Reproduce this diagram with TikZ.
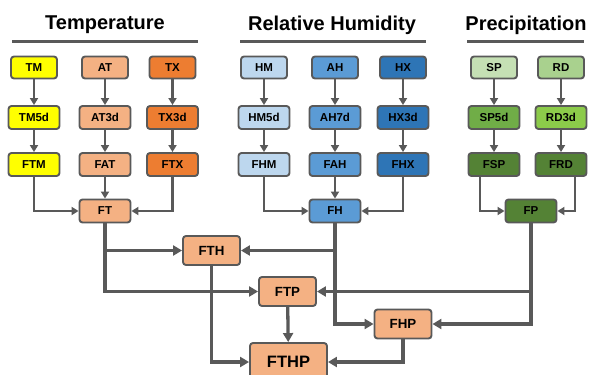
\documentclass[tikz,border=0pt]{standalone}
\usepackage{fontspec}
\setmainfont{Liberation Sans}
\usetikzlibrary{arrows.meta}

\definecolor{edge}{HTML}{595959}
\definecolor{cTM}{HTML}{FFFF00}
\definecolor{cAT}{HTML}{F4B183}
\definecolor{cTX}{HTML}{ED7D31}
\definecolor{cHM}{HTML}{BDD7EE}
\definecolor{cAH}{HTML}{5B9BD5}
\definecolor{cHX}{HTML}{2E75B6}
\definecolor{cSP}{HTML}{C5E0B4}
\definecolor{cSPd}{HTML}{70AD47}
\definecolor{cRD}{HTML}{A9D18E}
\definecolor{cRDd}{HTML}{8CCB4A}
\definecolor{cFG}{HTML}{548235}

\tikzset{
  box/.style={draw=edge, line width=1.9pt, rounded corners=3pt, inner sep=0pt,
    font=\bfseries\fontsize{11.5}{12}\selectfont, text=black},
  top/.style={box, minimum width=46pt, minimum height=22pt},
  mid/.style={box, minimum width=51pt, minimum height=23pt},
  big/.style={box, minimum width=57pt, minimum height=29pt,
    font=\bfseries\fontsize{13.3}{14}\selectfont},
  huge/.style={box, minimum width=77pt, minimum height=38pt,
    font=\bfseries\fontsize{16.5}{17}\selectfont},
  title/.style={font=\bfseries\fontsize{20}{22}\selectfont, inner sep=0pt},
  rule/.style={draw=edge, line width=3pt},
  thin/.style={draw=edge, line width=2.4pt, -{Triangle[length=7pt,width=8pt]}},
  thick/.style={draw=edge, line width=3.3pt, -{Triangle[length=9pt,width=10pt]}},
}

\begin{document}
\begin{tikzpicture}[x=1pt, y=-1pt]
\useasboundingbox (0,0) rectangle (593,374);

% group headings
\node[title] (tT) at (105,25) {Temperature};
\node[title] (tH) at (332,25) {Relative Humidity};
\node[title] (tP) at (526,25) {Precipitation};
\draw[rule] (12,42) -- (198,42);
\draw[rule] (240,42) -- (426,42);
\draw[rule] (467,42) -- (584,42);

% temperature column
\node[top, fill=cTM] (TM)   at (34,67.5)  {TM};
\node[mid, fill=cTM] (TM5d) at (34,117.5) {TM5d};
\node[mid, fill=cTM] (FTM)  at (34,164.5) {FTM};
\node[top, fill=cAT] (AT)   at (105,67.5)  {AT};
\node[mid, fill=cAT] (AT3d) at (105,117.5) {AT3d};
\node[mid, fill=cAT] (FAT)  at (105,164.5) {FAT};
\node[top, fill=cTX] (TX)   at (172.5,67.5)  {TX};
\node[mid, fill=cTX] (TX3d) at (172.5,117.5) {TX3d};
\node[mid, fill=cTX] (FTX)  at (172.5,164.5) {FTX};

% humidity column
\node[top, fill=cHM] (HM)   at (264,67.5)  {HM};
\node[mid, fill=cHM] (HM5d) at (264,117.5) {HM5d};
\node[mid, fill=cHM] (FHM)  at (264,164.5) {FHM};
\node[top, fill=cAH] (AH)   at (335,67.5)  {AH};
\node[mid, fill=cAH] (AH7d) at (335,117.5) {AH7d};
\node[mid, fill=cAH] (FAH)  at (335,164.5) {FAH};
\node[top, fill=cHX] (HX)   at (403,67.5)  {HX};
\node[mid, fill=cHX] (HX3d) at (403,117.5) {HX3d};
\node[mid, fill=cHX] (FHX)  at (403,164.5) {FHX};

% precipitation column
\node[top, fill=cSP]  (SP)   at (494,67.5)  {SP};
\node[mid, fill=cSPd] (SP5d) at (494,117.5) {SP5d};
\node[mid, fill=cFG]  (FSP)  at (494,164.5) {FSP};
\node[top, fill=cRD]  (RD)   at (561,67.5)  {RD};
\node[mid, fill=cRDd] (RD3d) at (561,117.5) {RD3d};
\node[mid, fill=cFG]  (FRD)  at (561,164.5) {FRD};

% group indices
\node[mid, fill=cAT] (FT) at (105,211) {FT};
\node[mid, fill=cAH] (FH) at (335,211) {FH};
\node[mid, fill=cFG] (FP) at (531,211) {FP};

% combined indices
\node[big, fill=cAT]  (FTH)  at (211.5,250.5) {FTH};
\node[big, fill=cAT]  (FTP)  at (287.5,291.5) {FTP};
\node[big, fill=cAT]  (FHP)  at (403,324)   {FHP};
\node[huge, fill=cAT] (FTHP) at (288.5,362)   {FTHP};

% chains inside each group
\foreach \a/\b in {TM/TM5d, TM5d/FTM, AT/AT3d, AT3d/FAT, TX/TX3d, TX3d/FTX,
                   HM/HM5d, HM5d/FHM, AH/AH7d, AH7d/FAH, HX/HX3d, HX3d/FHX,
                   SP/SP5d, SP5d/FSP, RD/RD3d, RD3d/FRD}
  \draw[thin] (\a) -- (\b);

% merging into group indices
\draw[thin] (FTM.south) |- (FT.west);
\draw[thin] (FAT) -- (FT);
\draw[thin] (FTX.south) |- (FT.east);
\draw[thin] (FHM.south) |- (FH.west);
\draw[thin] (FAH) -- (FH);
\draw[thin] (FHX.south) |- (FH.east);
\draw[thin] (FSP.south west) ++(12.5,0) |- (FP.west);
\draw[thin] (FRD.south east) ++(-12.5,0) |- (FP.east);

% pairwise combinations
\draw[thick] (FT.south) |- (FTH.west);
\draw[thick] (FT.south) |- (FTP.west);
\draw[thick] (FH.south) |- (FTH.east);
\draw[thick] (FH.south) |- (FHP.west);
\draw[thick] (FP.south) |- (FTP.east);
\draw[thick] (FP.south) |- (FHP.east);

% final combination
\draw[thick] (FTH.south) |- (FTHP.west);
\draw[thick] (FTP) -- (FTHP);
\draw[thick] (FHP.south) |- (FTHP.east);
\end{tikzpicture}
\end{document}
